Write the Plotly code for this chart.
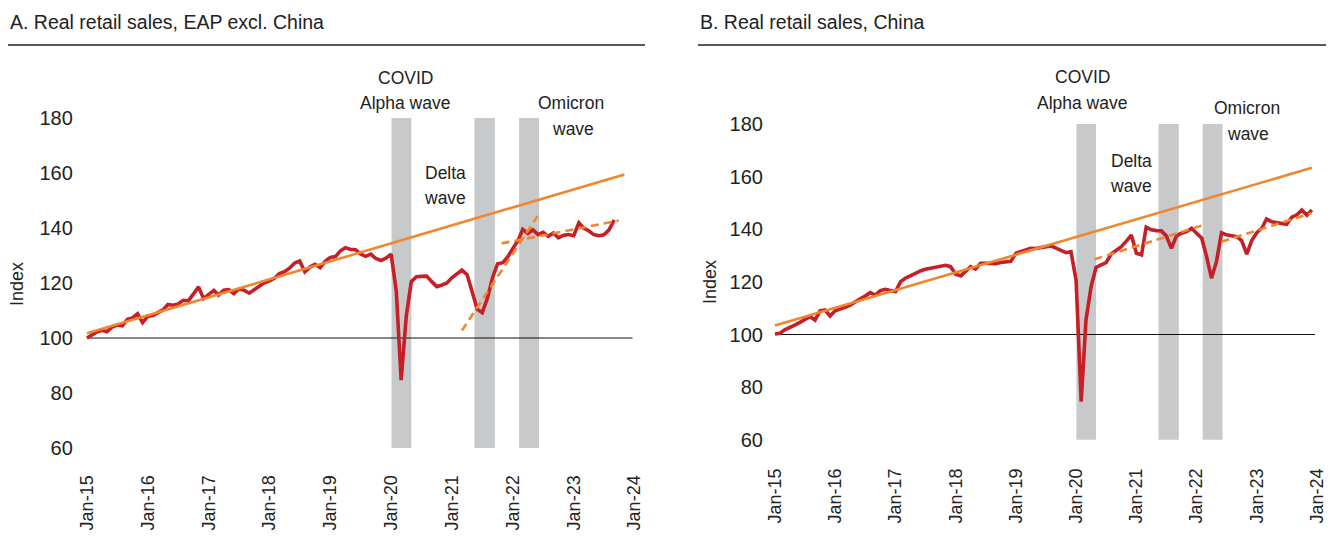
import pandas as pd
import plotly.graph_objects as go

# the page body adds an 8px offset; draw on a slightly smaller canvas
OFF = 8
W, H = 1334 - OFF, 542 - OFF
FONT = "Liberation Sans, Arial, sans-serif"
RED = "#C61F28"
ORANGE = "#F0862F"
GRAY = "#C8C9CB"

# ---------------- data ----------------
months_a = pd.date_range("2015-01-01", periods=105, freq="MS")
sales_a = [100.0, 101.3, 102.2, 102.8, 102.3, 104.0, 104.7, 104.4, 106.8, 107.3,
           108.8, 105.6, 107.9, 108.2, 109.2, 110.2, 112.2, 111.9, 112.4, 113.7,
           113.5, 115.8, 118.6, 114.3, 115.9, 117.3, 115.6, 117.4, 117.6, 116.1,
           117.8, 117.4, 116.3, 117.6, 119.0, 120.1, 120.8, 121.8, 123.4, 124.1,
           125.4, 127.3, 128.0, 124.1, 125.8, 126.8, 125.6, 127.9, 129.3, 129.6,
           131.6, 132.8, 132.3, 132.1, 130.6, 129.7, 130.5, 128.9, 128.2, 129.0,
           130.5, 117.0, 84.7, 108.0, 120.5, 122.3, 122.4, 122.5, 120.5, 118.7,
           119.3, 120.0, 122.0, 123.4, 124.7, 123.0, 116.5, 110.5, 109.2, 114.5,
           122.0, 127.0, 127.4, 129.5, 132.6, 135.5, 139.5, 138.0, 139.3, 137.6,
           138.4, 137.0, 138.2, 136.4, 137.4, 137.6, 137.2, 141.9, 140.0, 139.0,
           137.6, 137.2, 137.5, 139.3, 142.9]

months_b = pd.date_range("2015-01-01", periods=108, freq="MS")
sales_b = [100.2, 100.5, 101.8, 102.6, 103.6, 104.6, 105.5, 106.8, 105.5, 109.0,
           109.3, 107.0, 109.0, 109.6, 110.3, 111.2, 112.5, 113.6, 114.6, 115.9,
           115.0, 116.7, 117.2, 116.8, 116.3, 120.1, 121.4, 122.3, 123.3, 124.2,
           124.8, 125.2, 125.5, 125.9, 126.3, 125.8, 122.9, 122.3, 124.0, 125.8,
           124.9, 127.1, 127.1, 127.0, 126.9, 127.4, 127.6, 127.8, 130.9, 131.5,
           132.0, 132.8, 132.7, 133.0, 133.3, 133.7, 132.8, 131.9, 131.1, 131.5,
           120.7, 74.5, 105.5, 118.2, 125.5, 126.5, 127.3, 130.6, 132.0, 133.4,
           135.5, 137.8, 130.9, 130.3, 140.8, 139.8, 139.5, 139.4, 137.5, 132.8,
           137.5, 138.5, 139.1, 140.4, 138.5, 136.6, 130.0, 121.4, 127.6, 138.7,
           137.9, 137.5, 137.2, 135.7, 130.6, 135.7, 138.7, 140.5, 143.9, 142.9,
           142.6, 142.3, 141.9, 144.6, 145.5, 147.3, 145.4, 147.3]

# pre-COVID trend (solid) and post-wave trends (dashed): end points
trend_a_x = ["2015-01-01", "2023-11-01"]
trend_a_y = [101.7, 159.5]
dash1_a_x = ["2021-03-01", "2022-05-30"]
dash1_a_y = [102.7, 144.4]
dash2_a_x = ["2021-10-25", "2023-09-28"]
dash2_a_y = [134.4, 142.7]

trend_b_x = ["2015-01-01", "2023-12-01"]
trend_b_y = [103.4, 163.4]
dash1_b_x = ["2020-04-22", "2022-02-10"]
dash1_b_y = [128.6, 141.6]
dash2_b_x = ["2022-06-01", "2023-11-28"]
dash2_b_y = [135.3, 146.1]

# COVID wave periods (shaded)
waves = [("2020-01-03", "2020-05-01"),
         ("2021-05-15", "2021-09-15"),
         ("2022-02-07", "2022-06-07")]
wave_low, wave_high = 60, 180

tick_dates = pd.date_range("2015-01-01", "2024-01-01", freq="YS")
y_ticks = [60, 80, 100, 120, 140, 160, 180]
baseline = 100
baseline_span = ("2015-01-01", "2023-12-20")

# ---------------- figure ----------------
def fx(p):
    return (p - OFF) / W

def fy(p):
    return 1 - (p - OFF) / H

fig = go.Figure()

panels = [
    dict(xa="x", ya="y", months=months_a, sales=sales_a,
         trend=(trend_a_x, trend_a_y), d1=(dash1_a_x, dash1_a_y), d2=(dash2_a_x, dash2_a_y)),
    dict(xa="x2", ya="y2", months=months_b, sales=sales_b,
         trend=(trend_b_x, trend_b_y), d1=(dash1_b_x, dash1_b_y), d2=(dash2_b_x, dash2_b_y)),
]

shapes = []
for p in panels:
    fig.add_trace(go.Scatter(x=p["months"], y=p["sales"], mode="lines",
                             line=dict(color=RED, width=3.6), xaxis=p["xa"], yaxis=p["ya"],
                             showlegend=False, hoverinfo="skip"))
    fig.add_trace(go.Scatter(x=p["trend"][0], y=p["trend"][1], mode="lines",
                             line=dict(color=ORANGE, width=2.6), xaxis=p["xa"], yaxis=p["ya"],
                             showlegend=False, hoverinfo="skip"))
    for d in (p["d1"], p["d2"]):
        fig.add_trace(go.Scatter(x=d[0], y=d[1], mode="lines",
                                 line=dict(color=ORANGE, width=2.6, dash="8px,5px"),
                                 xaxis=p["xa"], yaxis=p["ya"], showlegend=False, hoverinfo="skip"))
    for w0, w1 in waves:
        shapes.append(dict(type="rect", xref=p["xa"], yref=p["ya"], x0=w0, x1=w1,
                           y0=wave_low, y1=wave_high, fillcolor=GRAY, line=dict(width=0),
                           layer="below"))
    shapes.append(dict(type="line", xref=p["xa"], yref=p["ya"], x0=baseline_span[0],
                       x1=baseline_span[1], y0=baseline, y1=baseline,
                       line=dict(color="#111111", width=1.2), layer="below"))

# title underlines
shapes.append(dict(type="line", xref="paper", yref="paper", x0=fx(8), x1=fx(645),
                   y0=fy(45), y1=fy(45), line=dict(color="#222222", width=1.3)))
shapes.append(dict(type="line", xref="paper", yref="paper", x0=fx(698), x1=fx(1334),
                   y0=fy(45), y1=fy(45), line=dict(color="#222222", width=1.3)))

xrange = ["2014-11-01", "2024-03-01"]
common_x = dict(range=xrange, type="date", tickvals=tick_dates, tickformat="%b-%y",
                tickangle=-90, showgrid=False, zeroline=False, showline=False, ticks="",
                tickfont=dict(family=FONT, size=18, color="#222222"))
common_y = dict(range=[55, 185], tickvals=y_ticks, showgrid=False, zeroline=False,
                showline=False, ticks="", tickfont=dict(family=FONT, size=20, color="#222222"))

fig.update_layout(
    width=W, height=H, margin=dict(l=0, r=0, t=0, b=0),
    paper_bgcolor="white", plot_bgcolor="white", showlegend=False,
    font=dict(family=FONT, color="#222222"),
    xaxis=dict(common_x, domain=[fx(76.8), fx(644.5)], anchor="y", ticklabelstandoff=9),
    yaxis=dict(common_y, domain=[fy(461.75), fy(104.25)], anchor="x", ticklabelstandoff=3),
    xaxis2=dict(common_x, domain=[fx(764.9), fx(1326.9)], anchor="y2", ticklabelstandoff=11),
    yaxis2=dict(common_y, domain=[fy(452.85), fy(110.95)], anchor="x2", ticklabelstandoff=1),
    shapes=shapes,
)

ann = []
def text(x, y, s, size=17.5, xanchor="center", angle=0):
    ann.append(dict(x=fx(x), y=fy(y), xref="paper", yref="paper", text=s, showarrow=False,
                    xanchor=xanchor, yanchor="middle", textangle=angle,
                    font=dict(family=FONT, size=size, color="#222222")))

text(8, 22, "A. Real retail sales, EAP excl. China", size=19.5, xanchor="left")
text(698, 22, "B. Real retail sales, China", size=19.5, xanchor="left")
text(17, 284, "Index", size=18, angle=-90)
text(710, 282, "Index", size=18, angle=-90)

# panel A wave labels
text(405, 78, "COVID")
text(405, 103, "Alpha wave")
text(445, 173, "Delta")
text(445, 198, "wave")
text(571, 103, "Omicron")
text(573, 129, "wave")
# panel B wave labels
text(1082, 77, "COVID")
text(1082, 103, "Alpha wave")
text(1131, 161, "Delta")
text(1131, 186, "wave")
text(1247, 108, "Omicron")
text(1248, 134, "wave")

fig.update_layout(annotations=ann)
fig.write_html("out.html")
